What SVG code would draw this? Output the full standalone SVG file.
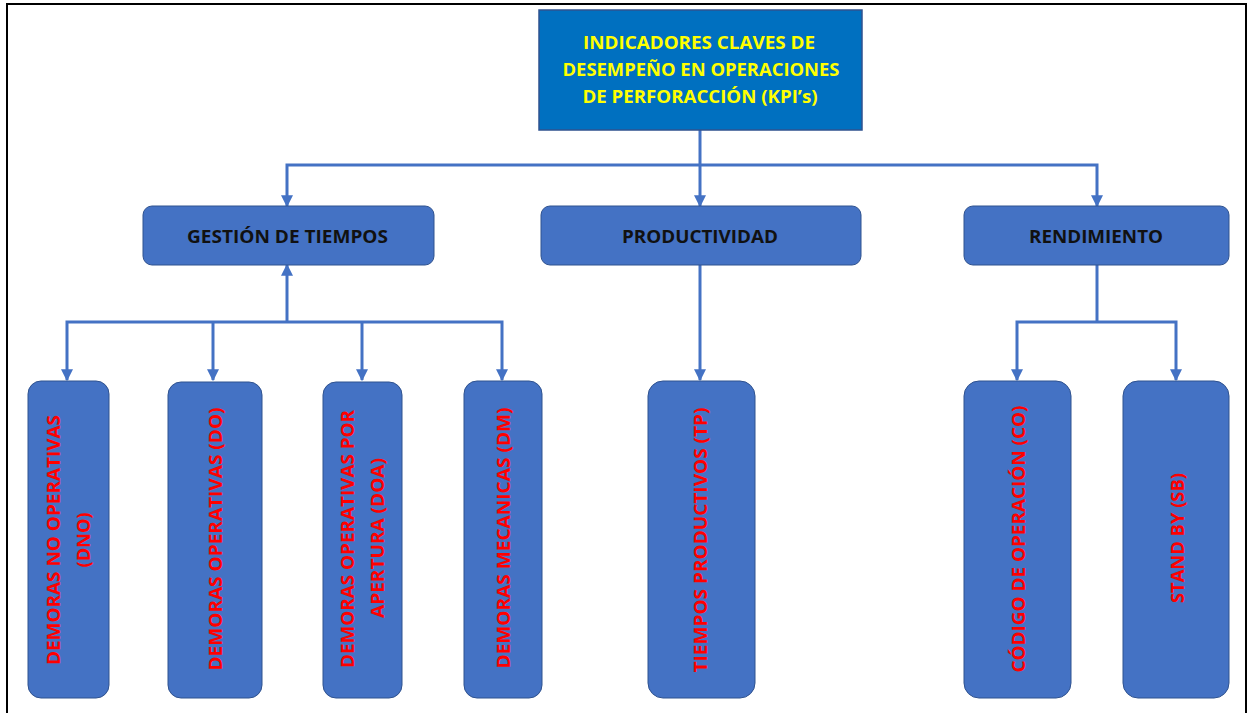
<svg xmlns="http://www.w3.org/2000/svg" width="1256" height="713" viewBox="0 0 1256 713">
<style>
.frame{fill:#fff;stroke:#000;stroke-width:2}
.top{fill:#0070C0;stroke:#2F528F;stroke-width:1.5}
.box{fill:#4472C4;stroke:#2F528F;stroke-width:1}
.ttl{font-family:"Open Sans","Liberation Sans",Arial,sans-serif;font-weight:bold;font-size:18px;fill:#FFFF00;text-anchor:middle}
.mid{font-family:"Open Sans","Liberation Sans",Arial,sans-serif;font-weight:bold;font-size:17px;fill:#111;text-anchor:middle}
.vt{font-family:"Open Sans","Liberation Sans",Arial,sans-serif;font-weight:bold;font-size:18px;fill:#FF0000;text-anchor:middle}
.ln{fill:none;stroke:#4472C4;stroke-width:3}
</style>
<defs>
<marker id="ah" viewBox="0 0 10 10" refX="9" refY="5" markerWidth="4" markerHeight="4" orient="auto-start-reverse" markerUnits="strokeWidth">
<path d="M0,0 L10,5 L0,10 Z" fill="#4472C4"/>
</marker>
</defs>
<rect class="frame" x="7" y="4" width="1239" height="720"/>
<g id="connectors">
<path class="ln" d="M700,130 V165"/>
<path class="ln" d="M287,206 V165 H1097 V206" marker-start="url(#ah)" marker-end="url(#ah)"/>
<path class="ln" d="M700,165 V206" marker-end="url(#ah)"/>
<path class="ln" d="M287,322 V265" marker-end="url(#ah)"/>
<path class="ln" d="M67,380 V322 H502 V380" marker-start="url(#ah)" marker-end="url(#ah)"/>
<path class="ln" d="M213,322 V380" marker-end="url(#ah)"/>
<path class="ln" d="M362,322 V380" marker-end="url(#ah)"/>
<path class="ln" d="M700,265 V380" marker-end="url(#ah)"/>
<path class="ln" d="M1097,265 V322"/>
<path class="ln" d="M1017,380 V322 H1176 V380" marker-start="url(#ah)" marker-end="url(#ah)"/>
</g>
<g id="kpi">
<rect class="top" x="539" y="10" width="323" height="120"/>
<text class="ttl" x="699" y="49" textLength="232" lengthAdjust="spacingAndGlyphs">INDICADORES CLAVES DE</text>
<text class="ttl" x="701" y="76" textLength="277" lengthAdjust="spacingAndGlyphs">DESEMPEÑO EN OPERACIONES</text>
<text class="ttl" x="700" y="103" textLength="235" lengthAdjust="spacingAndGlyphs">DE PERFORACCIÓN (KPI’s)</text>
</g>
<g id="gestion">
<rect class="box" x="143" y="206" width="291" height="59" rx="9"/>
<text class="mid" x="287.5" y="243" textLength="201" lengthAdjust="spacingAndGlyphs">GESTIÓN DE TIEMPOS</text>
</g>
<g id="productividad">
<rect class="box" x="541" y="206" width="320" height="59" rx="9"/>
<text class="mid" x="700" y="243" textLength="156" lengthAdjust="spacingAndGlyphs">PRODUCTIVIDAD</text>
</g>
<g id="rendimiento">
<rect class="box" x="964" y="206" width="265" height="59" rx="9"/>
<text class="mid" x="1096" y="243" textLength="134" lengthAdjust="spacingAndGlyphs">RENDIMIENTO</text>
</g>
<g id="dno">
<rect class="box" x="28" y="381" width="81" height="317" rx="13"/>
<text class="vt" transform="translate(59.5,540) rotate(-90)" textLength="250" lengthAdjust="spacingAndGlyphs">DEMORAS NO OPERATIVAS</text>
<text class="vt" transform="translate(90,540) rotate(-90)" textLength="55" lengthAdjust="spacingAndGlyphs">(DNO)</text>
</g>
<g id="do">
<rect class="box" x="168" y="382" width="94" height="316" rx="13"/>
<text class="vt" transform="translate(221.5,539) rotate(-90)" textLength="263" lengthAdjust="spacingAndGlyphs">DEMORAS OPERATIVAS (DO)</text>
</g>
<g id="doa">
<rect class="box" x="323" y="382" width="79" height="316" rx="13"/>
<text class="vt" transform="translate(353.5,539) rotate(-90)" textLength="258" lengthAdjust="spacingAndGlyphs">DEMORAS OPERATIVAS POR</text>
<text class="vt" transform="translate(383.5,538) rotate(-90)" textLength="160" lengthAdjust="spacingAndGlyphs">APERTURA (DOA)</text>
</g>
<g id="dm">
<rect class="box" x="464" y="381" width="78" height="317" rx="13"/>
<text class="vt" transform="translate(509.5,538) rotate(-90)" textLength="261" lengthAdjust="spacingAndGlyphs">DEMORAS MECANICAS (DM)</text>
</g>
<g id="tp">
<rect class="box" x="648" y="381" width="107" height="317" rx="15"/>
<text class="vt" transform="translate(706.5,540) rotate(-90)" textLength="265" lengthAdjust="spacingAndGlyphs">TIEMPOS PRODUCTIVOS (TP)</text>
</g>
<g id="co">
<rect class="box" x="964" y="381" width="107" height="317" rx="15"/>
<text class="vt" transform="translate(1024.5,539) rotate(-90)" textLength="267" lengthAdjust="spacingAndGlyphs">CÓDIGO DE OPERACIÓN (CO)</text>
</g>
<g id="sb">
<rect class="box" x="1123" y="381" width="106" height="317" rx="15"/>
<text class="vt" transform="translate(1183.5,538) rotate(-90)" textLength="130" lengthAdjust="spacingAndGlyphs">STAND BY (SB)</text>
</g>
</svg>
